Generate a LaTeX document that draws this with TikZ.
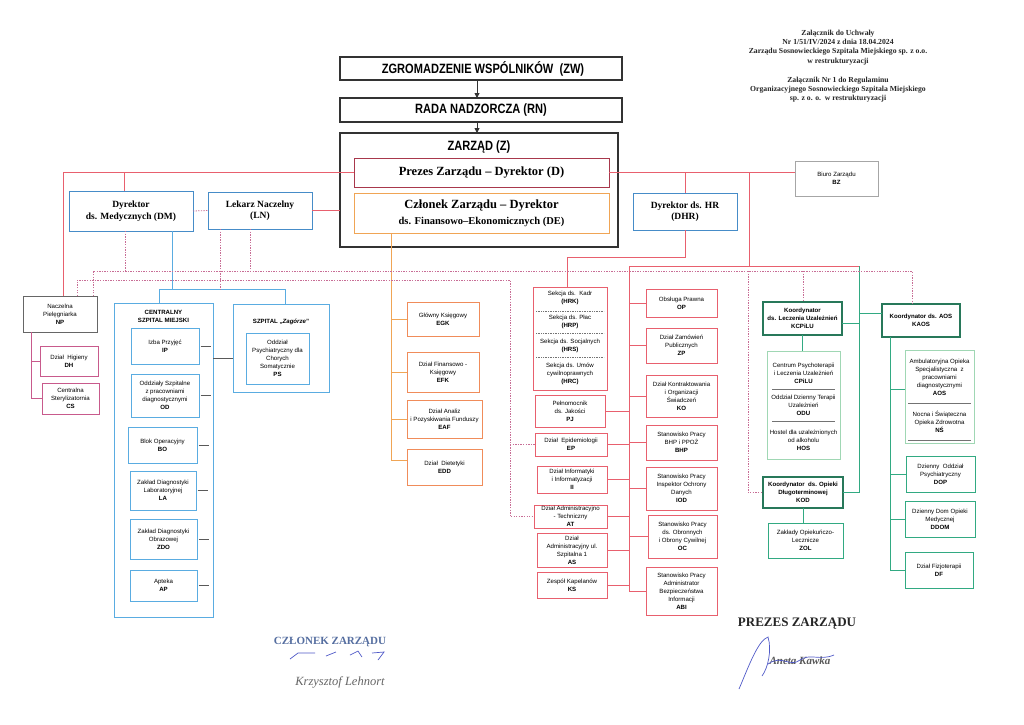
\documentclass[tikz,border=0pt]{standalone}
\usepackage{fontspec}
\setmainfont{Liberation Serif}
\setsansfont{Liberation Sans}
\newfontfamily\narrowfont[FakeStretch=0.82]{Liberation Sans}
\usetikzlibrary{arrows.meta,calc}
\newcommand\boxfont{\sffamily\fontsize{6.1}{8}\selectfont}
\newcommand\headfont{\rmfamily\bfseries\fontsize{9.5}{11.5}\selectfont}
\newcommand\bx[7]{\node[#2,anchor=north west,minimum width={#5-#3},minimum height={#6-#4}] (#1) at (#3,#4) {#7};}
\definecolor{lred}{RGB}{232,96,110}
\definecolor{dred}{RGB}{168,56,76}
\definecolor{lorange}{RGB}{240,165,85}
\definecolor{eorange}{RGB}{240,140,90}
\definecolor{mblue}{RGB}{70,140,200}
\definecolor{lblue}{RGB}{90,172,225}
\definecolor{dgreen}{RGB}{40,120,90}
\definecolor{mgreen}{RGB}{50,170,130}
\definecolor{pgreen}{RGB}{160,215,180}
\definecolor{magp}{RGB}{200,90,140}
\definecolor{dotc}{RGB}{200,110,150}
\definecolor{sigblue}{RGB}{80,90,200}
\definecolor{stampblue}{RGB}{85,110,160}
\begin{document}
\begin{tikzpicture}[x=1pt,y=-1pt,
 base/.style={draw, line width=0.9pt, inner sep=1pt, outer sep=0pt, align=center, font=\boxfont, fill=white},
 topbox/.style={base, draw=black!80, line width=1.3pt},
 toptext/.style={font=\narrowfont\bfseries\fontsize{13.5}{15}\selectfont, inner sep=0pt},
 zbox/.style={draw=black!80, line width=1.7pt, outer sep=0pt, inner sep=0pt},
 dbox/.style={base, draw=dred, font=\rmfamily\bfseries\fontsize{12.5}{15}\selectfont},
 debox/.style={base, draw=lorange, font=\rmfamily\bfseries\fontsize{12.5}{16}\selectfont},
 hbox/.style={base, draw=mblue, font=\headfont},
 cbox/.style={base, draw=lblue},
 ebox/.style={base, draw=eorange},
 rbox/.style={base, draw=lred},
 gbox/.style={base, draw=dgreen, line width=1.2pt, font=\boxfont\bfseries},
 pgbox/.style={base, draw=pgreen},
 mgbox/.style={base, draw=mgreen},
 npbox/.style={base, draw=black!60},
 mbox/.style={base, draw=magp},
 bzbox/.style={base, draw=black!35},
 intext/.style={align=center, font=\boxfont, inner sep=0pt},
 redl/.style={draw=lred, line width=1pt},
 orl/.style={draw=lorange, line width=1pt},
 bll/.style={draw=lblue, line width=1pt},
 grl/.style={draw=mgreen, line width=1pt},
 mgl/.style={draw=magp, line width=1pt},
 dotl/.style={draw=dotc, line width=0.8pt, dash pattern=on 1.3pt off 1.3pt},
 tickl/.style={draw=black!65, line width=1pt},
 sepl/.style={draw=black!55, line width=0.6pt},
 dsepl/.style={draw=black!55, line width=0.6pt, dash pattern=on 1pt off 0.7pt},
 arrl/.style={draw=black!80, line width=0.9pt, -{Triangle[length=5pt,width=5pt]}},
 sig/.style={draw=sigblue, line width=0.7pt}
]
\useasboundingbox (0,0) rectangle (1024,724);
\fill[white] (0,0) rectangle (1024,724);

% header
\node[align=center, text=black!85, font=\rmfamily\bfseries\fontsize{7.7}{9.3}\selectfont] (hdr1) at (838,47.5) {Załącznik do Uchwały\\Nr 1/51/IV/2024 z dnia 18.04.2024\\Zarządu Sosnowieckiego Szpitala Miejskiego sp. z o.o.\\w restrukturyzacji};
\node[align=center, text=black!85, font=\rmfamily\bfseries\fontsize{7.7}{9.3}\selectfont] (hdr2) at (838,89.5) {Załącznik Nr 1 do Regulaminu\\Organizacyjnego Sosnowieckiego Szpitala Miejskiego\\sp. z o. o.~~w restrukturyzacji};

% top
\bx{ZW}{topbox}{340}{57}{622}{80}{}
\node[toptext] (ZWt) at (483,68.5) {ZGROMADZENIE WSPÓLNIKÓW~~(ZW)};
\bx{RN}{topbox}{340}{98}{622}{122}{}
\node[toptext] (RNt) at (481,110) {RADA NADZORCZA (RN)};
\bx{Z}{zbox}{340}{133}{618}{247}{}
\node[toptext] (ZT) at (479,147) {ZARZĄD (Z)};
\coordinate (ax) at (477,0);
\draw[arrl] (ax |- ZW.south) -- (ax |- RN.north);
\draw[arrl] (ax |- RN.south) -- (ax |- Z.north);

% helper coordinates
\coordinate (L1) at (63,172.5);
\coordinate (L2) at (124,172.5);
\coordinate (r1) at (749,172.5);
\coordinate (r2) at (749,266);
\coordinate (hs) at (629,266);
\coordinate (gs) at (859,266);
\coordinate (h1) at (567,257);

\bx{D}{dbox}{354}{158}{609}{187}{Prezes Zarządu -- Dyrektor (D)}
\bx{DE}{debox}{354}{193}{609}{233}{Członek Zarządu -- Dyrektor\\{\fontsize{10.5}{13}\selectfont ds. Finansowo--Ekonomicznych (DE)}}

\bx{DM}{hbox}{69}{191}{193}{231}{Dyrektor\\ds. Medycznych (DM)}
\bx{LN}{hbox}{208}{192}{312}{229}{Lekarz Naczelny\\(LN)}
\bx{DHR}{hbox}{633}{193}{737}{230}{Dyrektor ds. HR\\(DHR)}
\bx{BZ}{bzbox}{795}{161}{878}{196}{Biuro Zarządu\\\textbf{BZ}}

% NP
\bx{NP}{npbox}{23}{296}{97}{332}{Naczelna\\Pielęgniarka\\\textbf{NP}}
\bx{DH}{mbox}{40}{346}{98}{376}{Dział~~Higieny\\\textbf{DH}}
\bx{CS}{mbox}{42}{383}{99}{414}{Centralna\\Sterylizatornia\\\textbf{CS}}

% CSM
\bx{CSM}{cbox}{114}{303}{213}{617}{}
\node[intext, font=\boxfont\bfseries] (csmT) at (163.5,316) {CENTRALNY\\SZPITAL MIEJSKI};
\bx{IP}{cbox}{131}{328}{199}{364}{Izba Przyjęć\\\textbf{IP}}
\bx{OD}{cbox}{131}{374}{199}{417}{Oddziały Szpitalne\\z pracowniami\\diagnostycznymi\\\textbf{OD}}
\bx{BO}{cbox}{128}{427}{197}{463}{Blok Operacyjny\\\textbf{BO}}
\bx{LA}{cbox}{130}{471}{196}{510}{Zakład Diagnostyki\\Laboratoryjnej\\\textbf{LA}}
\bx{ZDO}{cbox}{130}{519}{197}{559}{Zakład Diagnostyki\\Obrazowej\\\textbf{ZDO}}
\bx{AP}{cbox}{130}{570}{197}{601}{Apteka\\\textbf{AP}}
\bx{ZAG}{cbox}{233}{304}{329}{392}{}
\node[intext, font=\boxfont\bfseries] (zagT) at (281,322) {SZPITAL „\textit{Zagórze}”};
\bx{PS}{cbox}{246}{333}{309}{384}{Oddział\\Psychiatryczny dla\\Chorych\\Somatycznie\\\textbf{PS}}

% E column
\bx{EGK}{ebox}{407}{302}{479}{336}{Główny Księgowy\\\textbf{EGK}}
\bx{EFK}{ebox}{407}{352}{479}{392}{Dział Finansowo -\\Księgowy\\\textbf{EFK}}
\bx{EAF}{ebox}{407}{400}{482}{438}{Dział Analiz\\i Pozyskiwania Funduszy\\\textbf{EAF}}
\bx{EDD}{ebox}{407}{449}{482}{485}{Dział~~Dietetyki\\\textbf{EDD}}

% HR block
\bx{HR}{rbox}{533}{287}{607}{390}{}
\node[intext] (hrk) at (570,298) {Sekcja ds.~~Kadr\\\textbf{(HRK)}};
\node[intext] (hrp) at (570,322) {Sekcja ds. Płac\\\textbf{(HRP)}};
\node[intext] (hrs) at (570,346) {Sekcja ds. Socjalnych\\\textbf{(HRS)}};
\node[intext] (hrc) at (570,374) {Sekcja ds. Umów\\cywilnoprawnych\\\textbf{(HRC)}};
\draw[dsepl] (536,311) -- (604,311);
\draw[dsepl] (536,333.5) -- (604,333.5);
\draw[dsepl] (536,357.5) -- (604,357.5);
\bx{PJ}{rbox}{535}{395}{605}{427}{Pełnomocnik\\ds. Jakości\\\textbf{PJ}}
\bx{EP}{rbox}{535}{433}{607}{456}{Dział~~Epidemiologii\\\textbf{EP}}
\bx{II}{rbox}{537}{466}{607}{493}{Dział Informatyki\\i Informatyzacji\\\textbf{II}}
\bx{AT}{rbox}{534}{505}{607}{528}{Dział Administracyjno\\- Techniczny\\\textbf{AT}}
\bx{AS}{rbox}{537}{533}{607}{567}{Dział\\Administracyjny ul.\\Szpitalna 1\\\textbf{AS}}
\bx{KS}{rbox}{537}{572}{607}{598}{Zespół Kapelanów\\\textbf{KS}}
\bx{OP}{rbox}{646}{289}{717}{317}{Obsługa Prawna\\\textbf{OP}}
\bx{ZP}{rbox}{646}{328}{717}{363}{Dział Zamówień\\Publicznych\\\textbf{ZP}}
\bx{KO}{rbox}{646}{375}{717}{417}{Dział Kontraktowania\\i Organizacji\\Świadczeń\\\textbf{KO}}
\bx{BHP}{rbox}{646}{425}{717}{460}{Stanowisko Pracy\\BHP i PPOŻ\\\textbf{BHP}}
\bx{IOD}{rbox}{646}{467}{717}{510}{Stanowisko Pracy\\Inspektor Ochrony\\Danych\\\textbf{IOD}}
\bx{OC}{rbox}{648}{515}{717}{558}{Stanowisko Pracy\\ds. Obronnych\\i Obrony Cywilnej\\\textbf{OC}}
\bx{ABI}{rbox}{646}{567}{717}{615}{Stanowisko Pracy\\Administrator\\Bezpieczeństwa\\Informacji\\\textbf{ABI}}

% green
\bx{KCP}{gbox}{763}{302}{842}{335}{Koordynator\\ds. Leczenia Uzależnień\\KCPiLU}
\bx{CPI}{pgbox}{767}{351}{840}{459}{}
\node[intext] (cpilu) at (803.5,373) {Centrum Psychoterapii\\i Leczenia Uzależnień\\\textbf{CPiLU}};
\node[intext] (odu) at (803.5,405) {Oddział Dzienny Terapii\\Uzależnień\\\textbf{ODU}};
\node[intext] (hos) at (803.5,440) {Hostel dla uzależnionych\\od alkoholu\\\textbf{HOS}};
\draw[sepl] (772,389) -- (835,389);
\draw[sepl] (772,421) -- (835,421);
\bx{KOD}{gbox}{763}{477}{843}{508}{Koordynator~~ds. Opieki\\Długoterminowej\\KOD}
\bx{ZOL}{mgbox}{768}{523}{843}{558}{Zakłady Opiekuńczo-\\Lecznicze\\\textbf{ZOL}}
\bx{KAOS}{gbox}{882}{304}{960}{337}{Koordynator ds. AOS\\KAOS}
\bx{AOS}{pgbox}{905}{350}{974}{443}{}
\node[intext] (aosT) at (939.5,377) {Ambulatoryjna Opieka\\Specjalistyczna~~z\\pracowniami\\diagnostycznymi\\\textbf{AOS}};
\node[intext] (nsT) at (939.5,422) {Nocna i Świąteczna\\Opieka Zdrowotna\\\textbf{NŚ}};
\draw[sepl] (908,403) -- (971,403);
\draw[sepl] (908,440.5) -- (971,440.5);
\bx{DOP}{mgbox}{906}{456}{975}{492}{Dzienny~~Oddział\\Psychiatryczny\\\textbf{DOP}}
\bx{DDOM}{mgbox}{905}{501}{975}{537}{Dzienny Dom Opieki\\Medycznej\\\textbf{DDOM}}
\bx{DF}{mgbox}{905}{552}{973}{588}{Dział Fizjoterapii\\\textbf{DF}}

% ---- connectors
\draw[redl] (D.west) -- (L1) -- (L1 |- NP.north);
\draw[redl] (L2) -- (L2 |- DM.north);
\draw[redl] (LN.east) -- (LN.east -| Z.west);
\draw[redl] (D.east) -- (D.east -| BZ.west);
\draw[redl] (DHR.north |- D.east) -- (DHR.north);
\draw[redl] (r1) -- (r2);
\draw[redl] (hs) -- (gs);
\draw[redl] (DHR.south) -- (DHR.south |- h1) -- (h1) -- (h1 |- HR.north);
\draw[redl] (hs) -- (hs |- ABI.west);
\foreach \n in {PJ,EP,II,AT,AS,KS} \draw[redl] (\n.east) -- (\n.east -| hs);
\foreach \n in {OP,ZP,KO,BHP,IOD,OC,ABI} \draw[redl] (\n.west) -- (\n.west -| hs);

\coordinate (eS) at (391,233);
\coordinate (eddT) at ([yshift=7pt]EDD.west);
\draw[orl] (eS) -- (eS |- eddT) -- (eddT);
\foreach \n in {EGK,EFK,EAF} \draw[orl] (\n.west) -- (\n.west -| eS);

\coordinate (bx) at (172,289);
\coordinate (b1) at (159,289);
\coordinate (b2) at (285,289);
\draw[bll] (DM.south -| bx) -- (bx);
\draw[bll] (b1 |- CSM.north) -- (b1) -- (b2) -- (b2 |- ZAG.north);
\coordinate (c1) at (213,358);
\draw[tickl] (c1) -- (c1 -| ZAG.west);
\foreach \n in {IP,OD,BO,LA,ZDO,AP} \draw[tickl] ([xshift=1.5pt]\n.east) -- ([xshift=12pt]\n.east);

\coordinate (nx) at (31,0);
\draw[mgl] (nx |- NP.south) -- (nx |- CS.west) -- (CS.west);
\draw[mgl] (nx |- DH.west) -- (DH.west);

\coordinate (kcpT) at ([yshift=-5pt]KCP.east);
\coordinate (kaosT) at ([yshift=7pt]KAOS.west);
\coordinate (aosTk) at ([yshift=7pt]AOS.west);
\draw[grl] (gs) -- (gs |- KOD.east) -- (KOD.east);
\draw[grl] (kcpT) -- (kcpT -| gs);
\draw[grl] (kaosT -| gs) -- (kaosT);
\draw[grl] (KCP.south) -- (KCP.south |- CPI.north);
\draw[grl] (KOD.south) -- (KOD.south |- ZOL.north);
\coordinate (kx) at (890,337);
\draw[grl] (kx) -- (kx |- DF.west);
\draw[grl] (aosTk -| kx) -- (aosTk);
\foreach \n in {DOP,DDOM,DF} \draw[grl] (\n.west -| kx) -- (\n.west);

% dotted
\draw[dotl] (DM.east) -- (LN.west);
\coordinate (dA1) at (93,271);
\coordinate (dA2) at (912,271);
\draw[dotl] (dA1 |- NP.north) -- (dA1) -- (dA2) -- (dA2 |- KAOS.north);
\coordinate (dB1) at (77,280);
\coordinate (dB2) at (510,280);
\draw[dotl] (dB1 |- NP.north) -- (dB1) -- (dB2) -- (dB2 |- AT.west) -- (AT.west);
\draw[dotl] (dB2 |- EP.west) -- (EP.west);
\coordinate (dm) at (125,271);
\draw[dotl] (dm |- DM.south) -- (dm);
\coordinate (ln1) at (250,271);
\draw[dotl] (ln1 |- LN.south) -- (ln1);
\coordinate (ln2) at (220,289);
\draw[dotl] (ln2 |- LN.south) -- (ln2);
\coordinate (kc) at (803,271);
\draw[dotl] (kc) -- (kc |- KCP.north);
\coordinate (kd) at (748,271);
\draw[dotl] (kd) -- (kd |- KOD.west) -- (KOD.west);

% signatures
\node[font=\rmfamily\bfseries\fontsize{11}{13}\selectfont, text=stampblue] (sig1) at (330,642) {CZŁONEK ZARZĄDU};
\node[font=\rmfamily\itshape\fontsize{12.5}{14}\selectfont, text=black!60] (sig1n) at (340,682) {Krzysztof Lehnort};
\node[font=\rmfamily\bfseries\fontsize{13}{15}\selectfont, text=black!85] (sig2) at (797,624) {PREZES ZARZĄDU};
\node[font=\rmfamily\bfseries\itshape\fontsize{11}{13}\selectfont, text=black!65] (sig2n) at (800,661) {Aneta Kawka};
\draw[sig] (290,659) -- (298,653) -- (315,653);
\draw[sig] (326,656) -- (336,652);
\draw[sig] (350,655) -- (358,651) -- (362,657);
\draw[sig] (372,653) -- (384,652) -- (378,660);
\draw[sig] (739,689) .. controls (748,668) and (758,640) .. (768,637) .. controls (772,650) and (768,668) .. (762,676);
\draw[sig] (768,664) .. controls (782,654) and (790,668) .. (800,660) .. controls (810,653) and (820,661) .. (834,655);
\end{tikzpicture}
\end{document}
